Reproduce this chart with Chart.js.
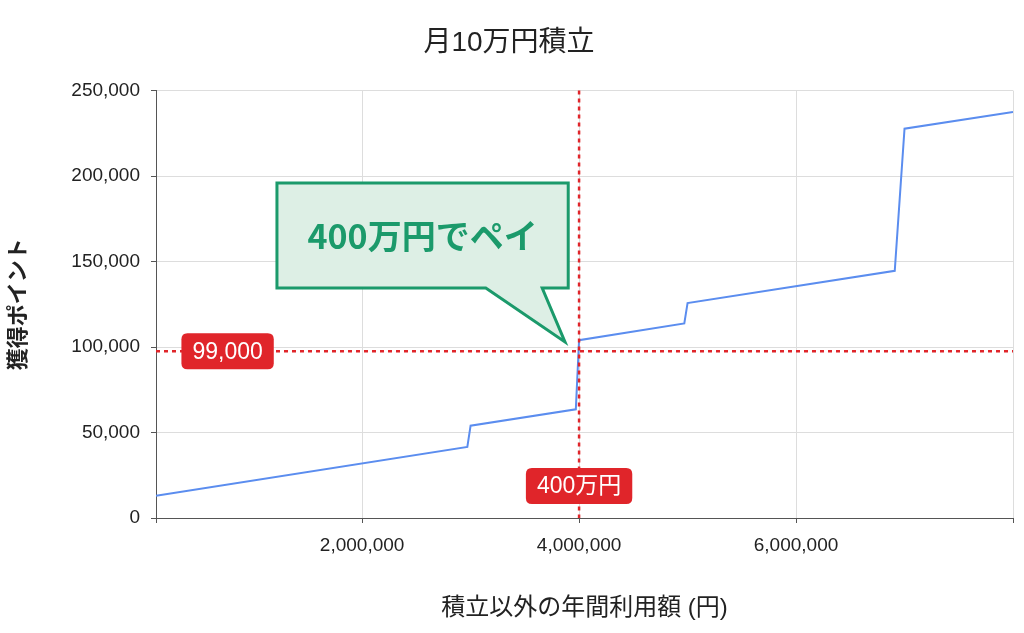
<!DOCTYPE html>
<html lang="ja">
<head>
<meta charset="utf-8">
<title>月10万円積立</title>
<script src="https://cdn.jsdelivr.net/npm/chart.js@4.4.1/dist/chart.umd.min.js"></script>
<style>
  html, body { margin: 0; padding: 0; background: #fff; }
  #chartBox { width: 1024px; height: 633px; position: relative; }
</style>
</head>
<body>
<div id="chartBox"><canvas id="paybackChart"></canvas></div>
<script>
// データ
var chartTitle = '月10万円積立';
var xAxisTitle = '積立以外の年間利用額 (円)';
var yAxisTitle = '獲得ポイント';

var usageAmounts = [100000, 2970000, 3000000, 3970000, 4000000, 4970000, 5000000, 6910000, 7000000, 8000000];
var earnedPoints = [13000, 41600, 54000, 63600, 104000, 113800, 125700, 144600, 227700, 237500];

// x軸の目盛り（両端はラベルなし）
var xTickValues = [100000, 2000000, 4000000, 6000000, 8000000];
var xLabelValues = [2000000, 4000000, 6000000];

// 損益分岐の目印
var breakEvenUsage = 4000000;
var breakEvenPoints = 97500;
var breakEvenPointsLabel = '99,000';
var breakEvenUsageLabel = '400万円';
var calloutText = '400万円でペイ';

var FONT = "'Liberation Sans', 'Noto Sans CJK JP', sans-serif";
var RED = '#e0252a';
var GREEN = '#1b9a6b';

// 吹き出しの位置（データ座標）
var calloutBox = { xMin: 1215000, xMax: 3900000, yMin: 134500, yMax: 196000 };
var calloutPointer = { baseFrom: 3140000, baseTo: 3660000, tipX: 3870000, tipY: 103000 };

function roundRectPath(ctx, x, y, w, h, r) {
  ctx.beginPath();
  ctx.moveTo(x + r, y);
  ctx.lineTo(x + w - r, y);
  ctx.quadraticCurveTo(x + w, y, x + w, y + r);
  ctx.lineTo(x + w, y + h - r);
  ctx.quadraticCurveTo(x + w, y + h, x + w - r, y + h);
  ctx.lineTo(x + r, y + h);
  ctx.quadraticCurveTo(x, y + h, x, y + h - r);
  ctx.lineTo(x, y + r);
  ctx.quadraticCurveTo(x, y, x + r, y);
  ctx.closePath();
}

// 赤いラベル
function drawTag(ctx, text, cx, cy) {
  ctx.font = '23px ' + FONT;
  var w = ctx.measureText(text).width + 22;
  var h = 36;
  ctx.fillStyle = RED;
  roundRectPath(ctx, cx - w / 2, cy - h / 2, w, h, 6);
  ctx.fill();
  ctx.fillStyle = '#fff';
  ctx.textAlign = 'center';
  ctx.textBaseline = 'middle';
  ctx.fillText(text, cx, cy + 1);
}

var paybackMarks = {
  id: 'paybackMarks',
  afterDatasetsDraw: function(chart) {
    var ctx = chart.ctx;
    var area = chart.chartArea;
    var xs = chart.scales.x;
    var ys = chart.scales.y;
    var px = xs.getPixelForValue(breakEvenUsage);
    var py = ys.getPixelForValue(breakEvenPoints);

    ctx.save();
    // 点線
    ctx.strokeStyle = RED;
    ctx.lineWidth = 2.5;
    ctx.setLineDash([4, 4]);
    ctx.beginPath();
    ctx.moveTo(area.left, py);
    ctx.lineTo(area.right, py);
    ctx.moveTo(px, area.top);
    ctx.lineTo(px, area.bottom);
    ctx.stroke();
    ctx.setLineDash([]);

    drawTag(ctx, breakEvenPointsLabel, xs.getPixelForValue(760000), py);
    drawTag(ctx, breakEvenUsageLabel, px, ys.getPixelForValue(18700));

    // 吹き出し
    var l = xs.getPixelForValue(calloutBox.xMin);
    var r = xs.getPixelForValue(calloutBox.xMax);
    var t = ys.getPixelForValue(calloutBox.yMax);
    var b = ys.getPixelForValue(calloutBox.yMin);
    ctx.beginPath();
    ctx.moveTo(l, t);
    ctx.lineTo(r, t);
    ctx.lineTo(r, b);
    ctx.lineTo(xs.getPixelForValue(calloutPointer.baseTo), b);
    ctx.lineTo(xs.getPixelForValue(calloutPointer.tipX), ys.getPixelForValue(calloutPointer.tipY));
    ctx.lineTo(xs.getPixelForValue(calloutPointer.baseFrom), b);
    ctx.lineTo(l, b);
    ctx.closePath();
    ctx.fillStyle = '#ddefe5';
    ctx.fill();
    ctx.strokeStyle = GREEN;
    ctx.lineWidth = 3;
    ctx.lineJoin = 'miter';
    ctx.stroke();

    ctx.fillStyle = GREEN;
    ctx.font = "bold 34px 'Noto Sans CJK JP', sans-serif";
    ctx.textAlign = 'center';
    ctx.textBaseline = 'middle';
    ctx.fillText(calloutText, (l + r) / 2, (t + b) / 2 + 1);
    ctx.restore();
  }
};

var points = usageAmounts.map(function(v, i) {
  return { x: v, y: earnedPoints[i] };
});

new Chart(document.getElementById('paybackChart'), {
  type: 'line',
  data: {
    datasets: [{
      label: yAxisTitle,
      data: points,
      borderColor: '#5b8def',
      borderWidth: 2,
      pointRadius: 0,
      tension: 0,
      fill: false
    }]
  },
  options: {
    responsive: true,
    maintainAspectRatio: false,
    animation: false,
    layout: { padding: { top: 0, right: 6, bottom: 0, left: 0 } },
    plugins: {
      legend: { display: false },
      tooltip: { enabled: false },
      title: {
        display: true,
        text: chartTitle,
        color: '#222',
        font: { family: FONT, size: 28, weight: 'normal' },
        padding: { top: 26, bottom: 31 }
      }
    },
    scales: {
      x: {
        type: 'linear',
        min: 100000,
        max: 8000000,
        afterFit: function(scale) { scale.height = 115; },
        afterBuildTicks: function(scale) {
          scale.ticks = xTickValues.map(function(v) { return { value: v }; });
        },
        ticks: {
          autoSkip: false,
          maxRotation: 0,
          padding: 11,
          color: '#222',
          font: { family: FONT, size: 19 },
          callback: function(value) {
            return xLabelValues.indexOf(value) >= 0 ? value.toLocaleString('en-US') : '';
          }
        },
        grid: { color: '#dddddd', tickColor: '#555', tickLength: 5 },
        border: { color: '#555', width: 1 },
        title: {
          display: true,
          text: xAxisTitle,
          color: '#222',
          font: { family: FONT, size: 24 },
          padding: { top: 0, bottom: 10 }
        }
      },
      y: {
        min: 0,
        max: 250000,
        afterFit: function(scale) { scale.width = 156; },
        ticks: {
          stepSize: 50000,
          padding: 11,
          color: '#222',
          font: { family: FONT, size: 19 },
          callback: function(value) { return value.toLocaleString('en-US'); }
        },
        grid: { color: '#dddddd', tickColor: '#555', tickLength: 5 },
        border: { color: '#555', width: 1 },
        title: {
          display: true,
          text: yAxisTitle,
          color: '#222',
          font: { family: FONT, size: 22, weight: 'bold' },
          padding: { top: 6, bottom: 0 }
        }
      }
    }
  },
  plugins: [paybackMarks]
});
</script>
</body>
</html>
